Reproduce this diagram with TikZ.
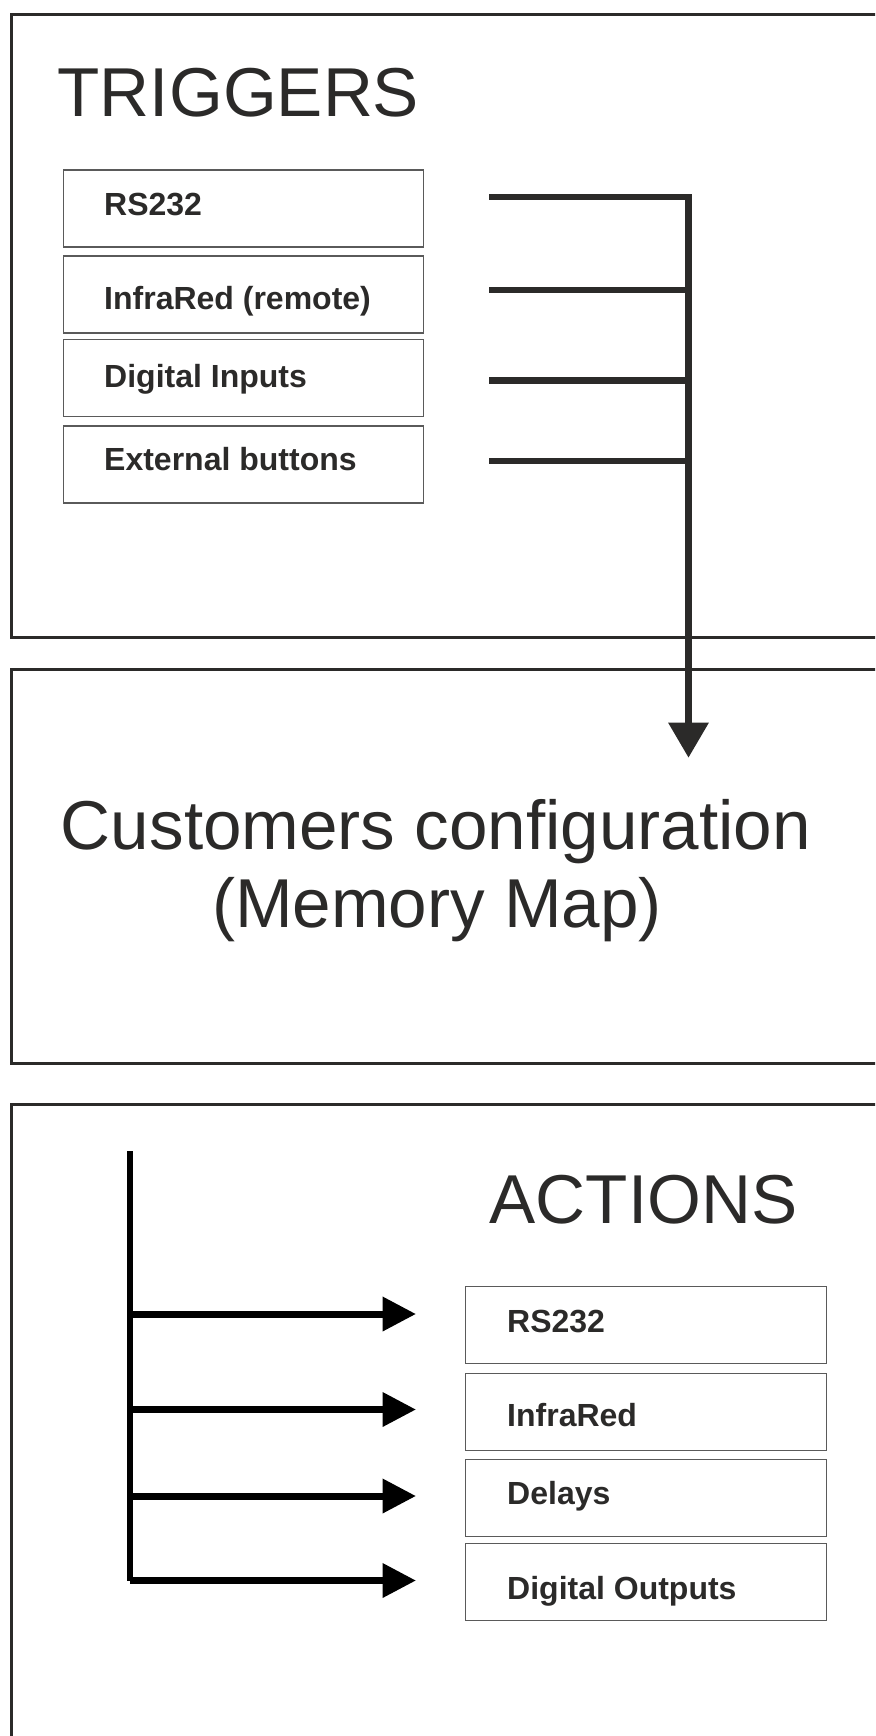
\documentclass[tikz,border=0pt]{standalone}
\usepackage{fontspec}
\setmainfont{Liberation Sans}
\usetikzlibrary{arrows.meta}
\definecolor{ink}{HTML}{2B2A29}
\definecolor{boxgray}{HTML}{5A5A5A}
\begin{document}
\begin{tikzpicture}[x=1pt,y=-1pt,
  panel/.style={draw=ink, line width=3.4pt, rectangle, inner sep=0pt, anchor=north west},
  tbox/.style={draw=boxgray, line width=1.3pt, rectangle, minimum width=360.4pt, minimum height=77pt, inner sep=0pt},
  blabel/.style={font=\fontsize{32}{36}\selectfont\bfseries, text=ink, inner sep=0pt, anchor=base west},
  title/.style={font=\fontsize{69.2}{78}\selectfont, text=ink, inner sep=0pt},
  trig/.style={draw=ink, line width=6.3pt},
  act/.style={draw=black, line width=7pt},
  trighead/.style={-{Triangle[width=39pt,length=35pt]}},
  acthead/.style={-{Triangle[width=33pt,length=33.5pt]}}
]
\useasboundingbox (0,0) rectangle (875,1736);
\clip (0,0) rectangle (875,1736);

% panels
\node[panel, minimum width=880pt, minimum height=622.7pt] (ptrig) at (10,13) {};
\node[panel, minimum width=880pt, minimum height=394pt] (pconf) at (10,668) {};
\node[panel, minimum width=880pt, minimum height=700pt] (pact) at (10,1103) {};

% titles
\node[title, anchor=base west] (ttrig) at (57.5,117) {TRIGGERS};
\node[title, anchor=base] (cfg1) at (436,849) {Customers configuration};
\node[title, anchor=base] (cfg2) at (437,927) {(Memory Map)};
\node[title, anchor=base west] (tact) at (489.5,1223) {ACTIONS};

% trigger boxes
\node[tbox] (b1) at (243.5,208.6) {};
\node[tbox] (b2) at (243.5,294.4) {};
\node[tbox] (b3) at (243.5,378.0) {};
\node[tbox] (b4) at (243.5,464.4) {};
\node[blabel] (l1) at (104,215.7) {RS232};
\node[blabel] (l2) at (104,309.3) {InfraRed (remote)};
\node[blabel] (l3) at (104,387.7) {Digital Inputs};
\node[blabel] (l4) at (104,470.7) {External buttons};

% trigger connectors
\coordinate (s1) at (489,197);
\coordinate (s2) at (489,290);
\coordinate (s3) at (489,380.5);
\coordinate (s4) at (489,461);
\coordinate (j2) at (688.5,290);
\coordinate (j3) at (688.5,380.5);
\coordinate (j4) at (688.5,461);
\coordinate (tip) at (688.5,757.7);
\draw[trig, trighead] (s1) -| (tip);
\draw[trig] (s2) -- (j2);
\draw[trig] (s3) -- (j3);
\draw[trig] (s4) -- (j4);

% action boxes
\node[tbox] (a1) at (646,1325.3) {};
\node[tbox] (a2) at (646,1411.8) {};
\node[tbox] (a3) at (646,1498.0) {};
\node[tbox] (a4) at (646,1581.8) {};
\node[blabel] (m1) at (507,1332) {RS232};
\node[blabel] (m2) at (507,1426.6) {InfraRed};
\node[blabel] (m3) at (507,1504.5) {Delays};
\node[blabel] (m4) at (507,1599) {Digital Outputs};

% action connectors
\coordinate (vtop) at (130,1151);
\coordinate (vbot) at (130,1581);
\coordinate (r1) at (130,1314);
\coordinate (r2) at (130,1409.5);
\coordinate (r3) at (130,1496);
\coordinate (r4) at (130,1580.5);
\coordinate (e1) at (416,1314);
\coordinate (e2) at (416,1409.5);
\coordinate (e3) at (416,1496);
\coordinate (e4) at (416,1580.5);
\draw[act, line width=6.3pt] (vtop) -- (vbot);
\draw[act, acthead] (r1) -- (e1);
\draw[act, acthead] (r2) -- (e2);
\draw[act, acthead] (r3) -- (e3);
\draw[act, acthead] (r4) -- (e4);
\end{tikzpicture}
\end{document}
